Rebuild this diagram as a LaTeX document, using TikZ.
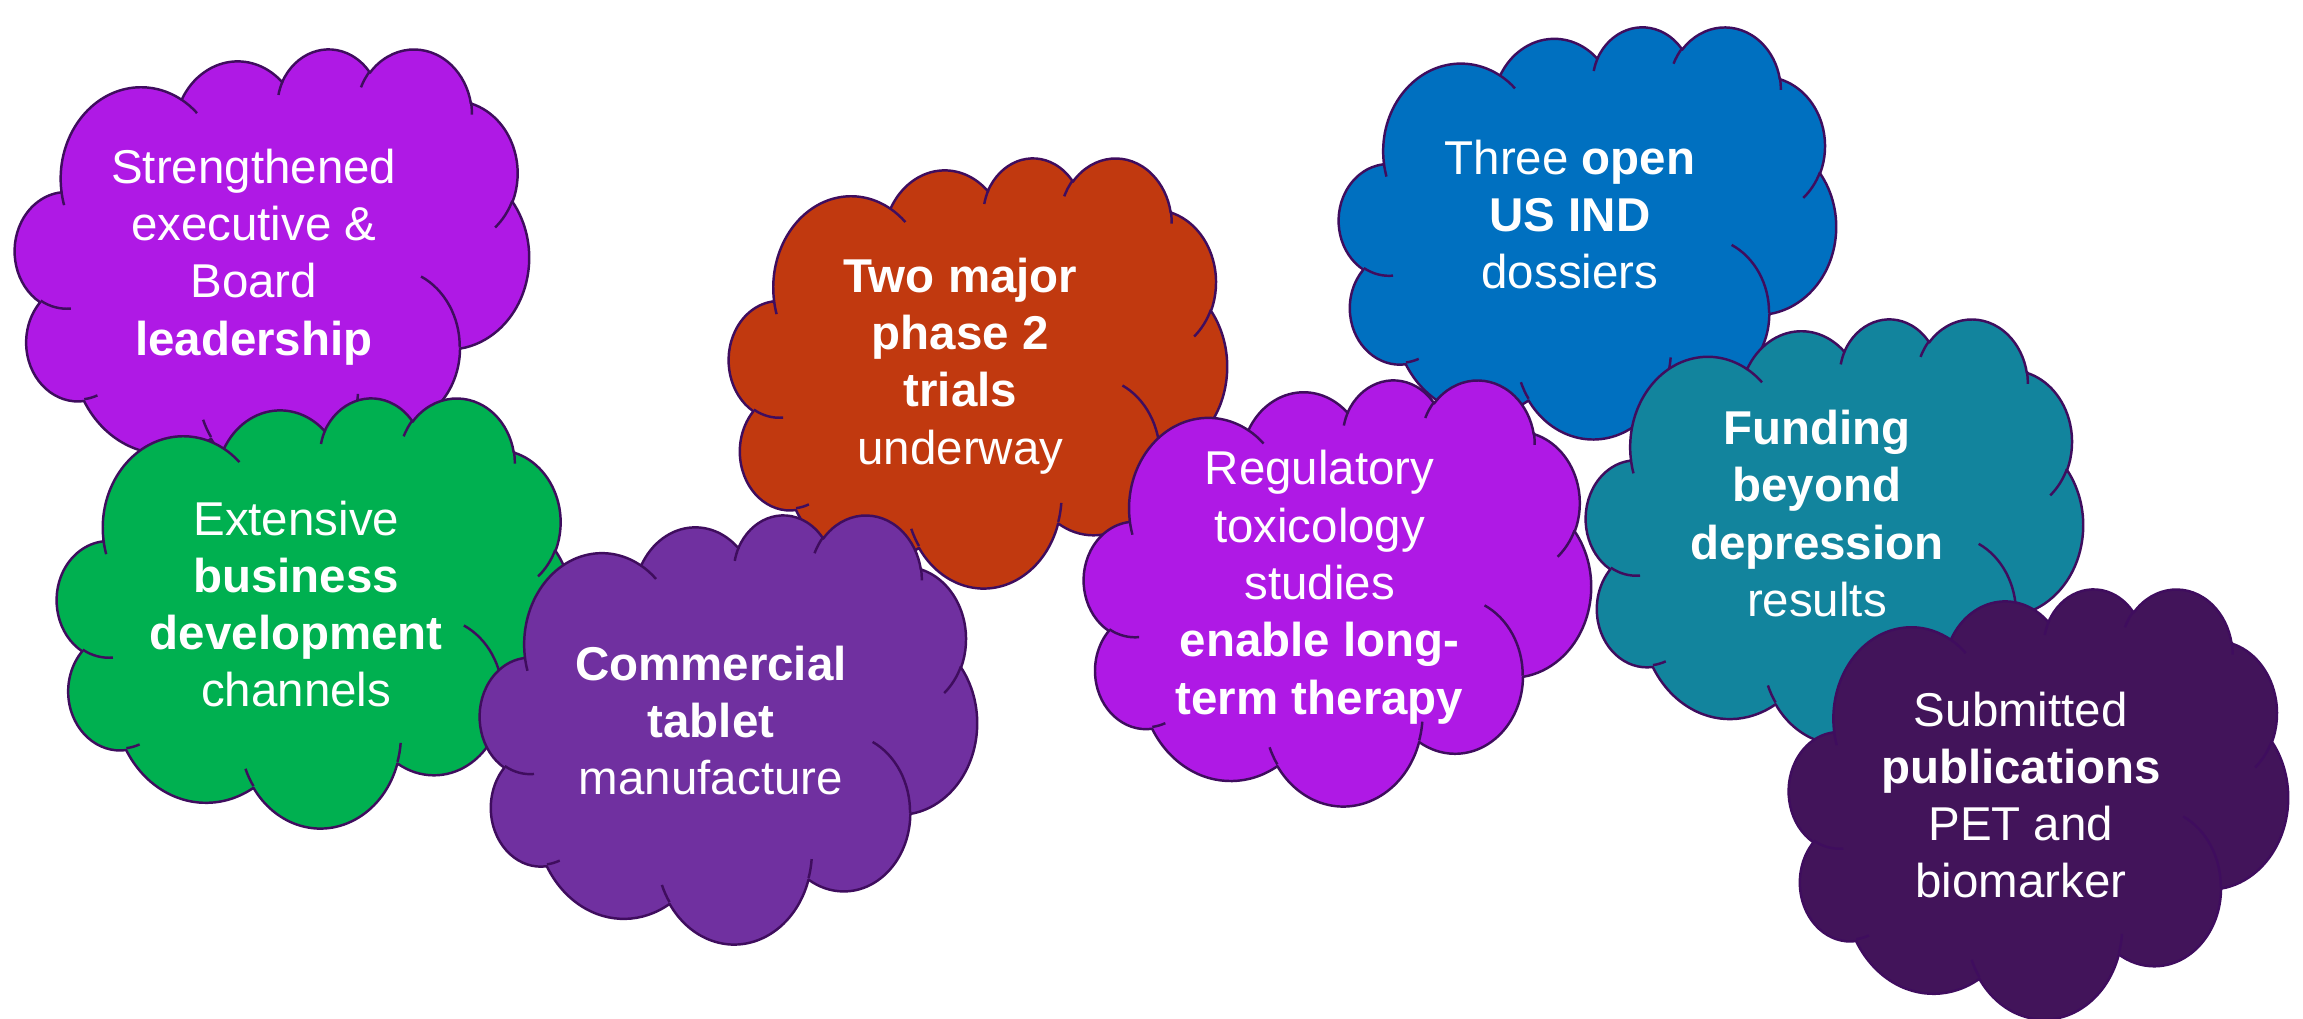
\documentclass[tikz,border=0pt]{standalone}
\usepackage{fontspec}
\setmainfont{Liberation Sans}

\definecolor{cloudedge}{HTML}{3F0D5E}
\definecolor{violetfill}{HTML}{AF19E5}
\definecolor{greenfill}{HTML}{00B050}
\definecolor{plumfill}{HTML}{7030A0}
\definecolor{rustfill}{HTML}{C1390F}
\definecolor{bluefill}{HTML}{0070C0}
\definecolor{tealfill}{HTML}{12849D}
\definecolor{auberginefill}{HTML}{42145A}

% One arc of a cloud: radii, then start and sweep angles given as
% directions seen from the arc centre (converted to ellipse parameters).
\newcommand\carc[4]{arc[x radius=#1, y radius=#2, start angle={pa(#1,#2,#3)}, delta angle={pd(#1,#2,#3,#4)}]}

% Cloud outline in a 43.2 x 43.2 box, y axis pointing down.
\newcommand\cloudouter{(3.900,14.370)
  \carc{6.753}{9.190}{-190.487483}{123.780533}
  \carc{5.333}{7.267}{-144.102383}{89.945233}
  \carc{4.365}{5.945}{-145.807917}{99.723017}
  \carc{4.857}{6.595}{-130.986067}{117.241733}
  \carc{5.333}{7.273}{-78.708883}{109.026917}
  \carc{6.775}{9.220}{-46.26725}{130.269}
  \carc{5.785}{7.867}{0.625017}{114.033333}
  \carc{6.752}{9.215}{22.4516}{115.17255}
  \carc{7.720}{10.543}{66.242633}{75.711017}
  \carc{4.360}{5.918}{-274.942083}{146.735567}
  \carc{4.345}{5.945}{-246.8285}{152.51885}
  -- cycle}

% The short inner strokes that separate the puffs.
\newcommand\cloudinner{%
  (4.693,26.177) \carc{4.345}{5.945}{86.742}{26.4295}
  (6.928,34.899) \carc{4.360}{5.918}{73.610467}{11.447467}
  (16.478,39.090) \carc{6.752}{9.215}{137.62415}{14.0811}
  (28.827,34.751) \carc{6.752}{9.215}{6.453267}{15.99835}
  (34.129,22.954) \carc{5.785}{7.867}{-70.29235}{70.917367}
  (41.798,15.354) \carc{5.333}{7.273}{30.318033}{27.7515}
  (38.324,5.426) \carc{4.857}{6.595}{-13.744333}{14.8589}
  (29.078,3.952) \carc{4.857}{6.595}{-149.18145}{18.195367}
  (22.141,4.720) \carc{4.365}{5.945}{-163.494267}{17.68635}
  (14.000,5.192) \carc{6.753}{9.190}{-66.70695}{12.31935}
  (4.127,15.789) \carc{6.753}{9.190}{157.65435}{11.858167}}

% [#1 text drop], #2 name, #3 left, #4 top, #5 width, #6 height, #7 fill, #8 text
\newcommand\drawcloud[8][0]{%
  \begin{scope}[shift={(#3,#4)}, xscale=#5/43.2, yscale=#6/43.2]
    \path[cloudline, fill=#7] \cloudouter;
    \path[cloudline] \cloudinner;
  \end{scope}
  \node[lbl] (#2) at ({#3+0.4646*#5},{#4+0.4768*#6+#1}) {#8};}

\begin{document}
\begin{tikzpicture}[
  x=0.01cm, y=-0.01cm,
  declare function={
    pa(\xa,\xb,\xt)=atan2(\xa*sin(\xt),\xb*cos(\xt));
    pd(\rA,\rB,\sT,\sW)=Mod(pa(\rA,\rB,\sT+\sW)-pa(\rA,\rB,\sT),360);
  },
  cloudline/.style={draw=cloudedge, line width=0.7pt, line join=round},
  lbl/.style={align=center, text=white, inner sep=0pt,
    font=\fontsize{13.5}{16.3}\selectfont},
]
\fill[white] (0,0) rectangle (2303,1018);
\useasboundingbox (0,0) rectangle (2303,1018);

\drawcloud[4]{leadership}{15}{48}{514}{430}{violetfill}
  {Strengthened\\executive \&\\Board\\\textbf{leadership}}
\drawcloud[2]{bizdev}{57}{397}{515}{430}{greenfill}
  {Extensive\\\textbf{business}\\\textbf{development}\\channels}
\drawcloud[4]{trials}{729}{157}{498}{430}{rustfill}
  {\textbf{Two major}\\\textbf{phase 2}\\\textbf{trials}\\underway}
\drawcloud[2]{tablet}{480}{514}{497}{429}{plumfill}
  {\textbf{Commercial}\\\textbf{tablet}\\manufacture}
\drawcloud[-8]{ind}{1339}{26}{497}{412}{bluefill}
  {Three \textbf{open}\\\textbf{US IND}\\dossiers}
\drawcloud[5]{tox}{1084}{379}{507}{426}{violetfill}
  {Regulatory\\toxicology\\studies\\\textbf{enable long-}\\\textbf{term therapy}}
\drawcloud[-7]{funding}{1586}{318}{497}{425}{tealfill}
  {\textbf{Funding}\\\textbf{beyond}\\\textbf{depression}\\results}
\drawcloud[2]{pubs}{1789}{588}{499}{430}{auberginefill}
  {Submitted\\\textbf{publications}\\PET and\\biomarker}
\end{tikzpicture}
\end{document}
